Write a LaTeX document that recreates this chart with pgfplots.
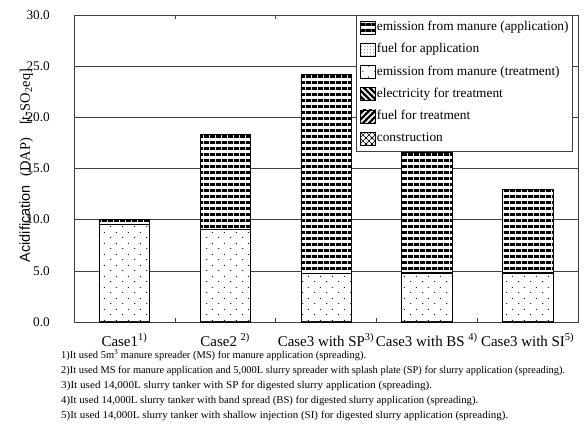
\documentclass[border=0pt]{standalone}
\usepackage{fontspec}
\setmainfont{Liberation Serif}
\newfontfamily\arial{Liberation Sans}
\usepackage{graphicx}
\usepackage{pgfplots}
\usepackage{pgfplotstable}
\pgfplotsset{compat=1.18}
\usetikzlibrary{patterns}

\pgfdeclarepatternformonly{hstripes}{\pgfpoint{0bp}{0bp}}{\pgfpoint{6bp}{5.8bp}}{\pgfpoint{6bp}{5.8bp}}{%
  \pgfpathrectangle{\pgfpoint{-0.1bp}{0bp}}{\pgfpoint{6.2bp}{3bp}}\pgfusepath{fill}}
\pgfdeclarepatternformonly{sdots}{\pgfpoint{0bp}{0bp}}{\pgfpoint{12bp}{11bp}}{\pgfpoint{12bp}{11bp}}{%
  \pgfpathcircle{\pgfpoint{3bp}{2.75bp}}{0.65bp}\pgfpathcircle{\pgfpoint{9bp}{8.25bp}}{0.65bp}\pgfusepath{fill}}
\pgfdeclarepatternformonly{ddots}{\pgfpoint{0bp}{0bp}}{\pgfpoint{3bp}{3bp}}{\pgfpoint{3bp}{3bp}}{%
  \pgfpathcircle{\pgfpoint{1.5bp}{1.5bp}}{0.55bp}\pgfusepath{fill}}
\pgfdeclarepatternformonly{bslash}{\pgfpoint{-1bp}{-1bp}}{\pgfpoint{7bp}{7bp}}{\pgfpoint{6bp}{6bp}}{%
  \pgfsetlinewidth{2.2bp}\pgfpathmoveto{\pgfpoint{-1bp}{7bp}}\pgfpathlineto{\pgfpoint{7bp}{-1bp}}\pgfusepath{stroke}}
\pgfdeclarepatternformonly{fslash}{\pgfpoint{-1bp}{-1bp}}{\pgfpoint{7bp}{7bp}}{\pgfpoint{6bp}{6bp}}{%
  \pgfsetlinewidth{2.2bp}\pgfpathmoveto{\pgfpoint{-1bp}{-1bp}}\pgfpathlineto{\pgfpoint{7bp}{7bp}}\pgfusepath{stroke}}
\pgfdeclarepatternformonly{xhatch}{\pgfpoint{-1bp}{-1bp}}{\pgfpoint{7bp}{7bp}}{\pgfpoint{6bp}{6bp}}{%
  \pgfsetlinewidth{0.5bp}\pgfpathmoveto{\pgfpoint{-1bp}{-1bp}}\pgfpathlineto{\pgfpoint{7bp}{7bp}}%
  \pgfpathmoveto{\pgfpoint{-1bp}{7bp}}\pgfpathlineto{\pgfpoint{7bp}{-1bp}}\pgfusepath{stroke}}

\pgfplotstableread{
x constr fueltr elec emtr fuelap emap
0 0.01 0.01 0.01 9.50 0.05 0.50
1 0.01 0.01 0.01 9.02 0.05 9.20
2 0.01 0.01 0.01 4.72 0.05 19.40
3 0.01 0.01 0.01 4.75 0.05 11.80
4 0.01 0.01 0.01 4.75 0.05 8.17
}\datatable

\newcommand\fn[2]{\resizebox{#1bp}{\height}{#2}}

\begin{document}
\begin{tikzpicture}[x=1bp,y=1bp]
\path[use as bounding box] (0,0) rectangle (584,426);
\begin{axis}[
  at={(74bp,104bp)}, anchor=south west,
  scale only axis, width=504bp, height=307bp,
  ybar stacked, bar width=0.5,
  xmin=-0.5, xmax=4.5, ymin=0, ymax=30,
  ytick={0,5,...,30},
  ymajorgrids,
  grid style={black!75, line width=0.6bp},
  axis line style={black!75, line width=0.6bp},
  major tick length=0pt,
  xtick={0,...,4},
  xticklabels={Case1\textsuperscript{1)}, Case2 \textsuperscript{2)}, Case3 with SP\textsuperscript{3)}, Case3 with BS \textsuperscript{4)}, Case3 with SI\textsuperscript{5)}},
  xticklabel style={font=\fontsize{15}{17}\selectfont, anchor=base, yshift=-24bp},
  extra x ticks={0.5,1.5,2.5,3.5},
  extra x tick labels={},
  extra x tick style={major tick length=4bp, tick align=inside, grid=none, tick style={black!75, line width=0.6bp}},
  yticklabel style={font=\fontsize{13.3}{15}\selectfont, inner xsep=0pt, xshift=-24bp},
  /pgf/number format/.cd, fixed, fixed zerofill, precision=1, assume math mode=true, /pgfplots/.cd,
  every axis y label/.style={at={(rel axis cs:-0.095,0.51)}, rotate=90, anchor=center, font=\fontsize{14.5}{16}\selectfont},
  ylabel={{\arial Acidification}\hspace{0.6em}(DAP)\hspace{0.9em}[t-SO\textsubscript{2}eq]},
  reverse legend,
  legend image code/.code={\draw[#1] (0bp,-6.5bp) rectangle (15bp,6.5bp);},
  legend style={at={(rel axis cs:0.5595,1)}, anchor=north west, draw=black!75, line width=0.6bp,
    font=\fontsize{13.4}{15}\selectfont, inner xsep=4bp, inner ysep=5.5bp, row sep=8.6bp, column sep=1bp,
    nodes={inner sep=0pt, text height=9.5bp, text depth=3.5bp}},
  legend cell align=left,
]
\addplot[draw=black, line width=0.6bp, fill=white, postaction={pattern=xhatch}] table[x=x,y=constr]{\datatable};
\addlegendentry{construction}
\addplot[draw=black, line width=0.6bp, fill=white, postaction={pattern=fslash}] table[x=x,y=fueltr]{\datatable};
\addlegendentry{fuel for treatment}
\addplot[draw=black, line width=0.6bp, fill=white, postaction={pattern=bslash}] table[x=x,y=elec]{\datatable};
\addlegendentry{electricity for treatment}
\addplot[draw=black, line width=0.6bp, fill=white, postaction={pattern=sdots}] table[x=x,y=emtr]{\datatable};
\addlegendentry{emission from manure (treatment)}
\addplot[draw=black, line width=0.6bp, fill=white, postaction={pattern=ddots}] table[x=x,y=fuelap]{\datatable};
\addlegendentry{fuel for application}
\addplot[draw=black, line width=0.6bp, fill=white, postaction={pattern=hstripes}] table[x=x,y=emap]{\datatable};
\addlegendentry{emission from manure (application)}
\end{axis}
\begin{scope}[every node/.style={anchor=base west, inner sep=0pt, font=\fontsize{10.5}{12}\selectfont}]
\node at (61,68) {\fn{305}{1)It used 5m\textsuperscript{3} manure spreader (MS) for manure application (spreading).}};
\node at (61,53) {\fn{504}{2)It used MS for manure application and 5,000L slurry spreader with splash plate (SP) for slurry application (spreading).}};
\node at (61,38) {\fn{371}{3)It used 14,000L slurry tanker with SP for digested slurry application (spreading).}};
\node at (61,23) {\fn{417}{4)It used 14,000L slurry tanker with band spread (BS) for digested slurry application (spreading).}};
\node at (61,8) {\fn{447}{5)It used 14,000L slurry tanker with shallow injection (SI) for digested slurry application (spreading).}};
\end{scope}
\end{tikzpicture}
\end{document}
